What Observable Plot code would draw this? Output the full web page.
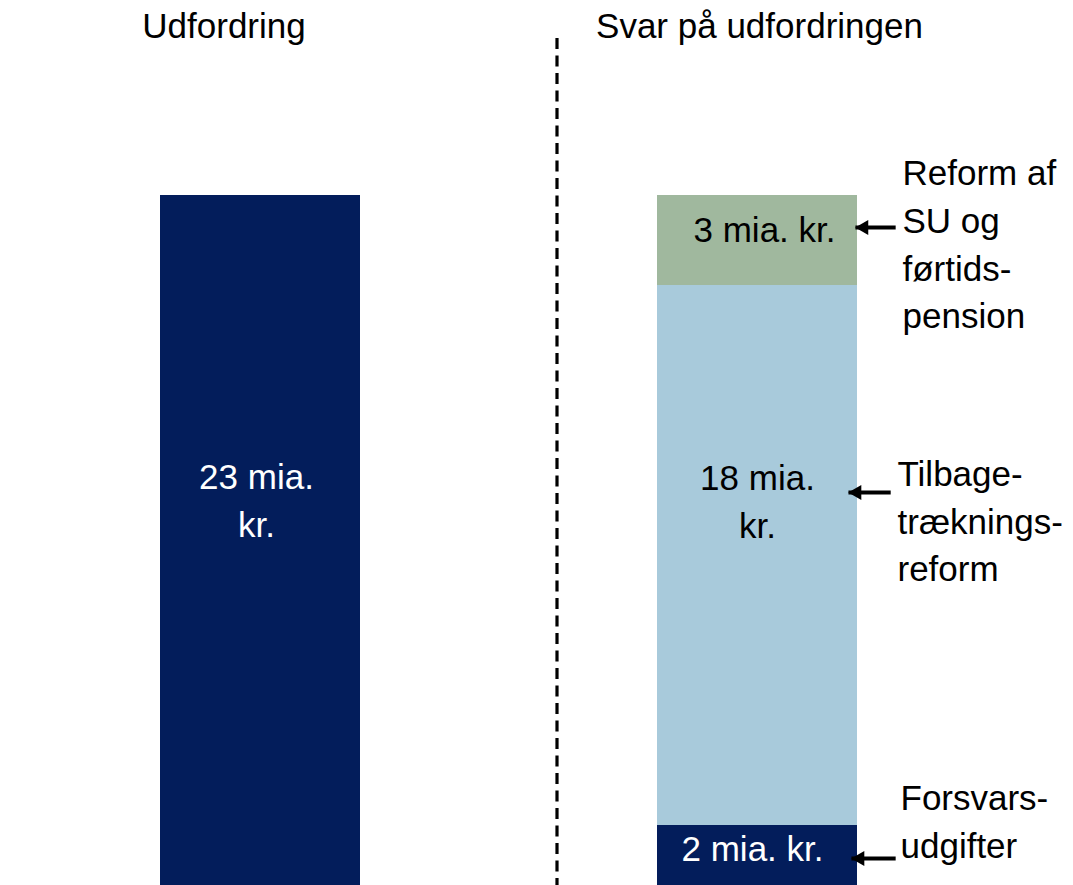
<!DOCTYPE html>
<html><head><meta charset="utf-8">
<script src="https://cdn.jsdelivr.net/npm/d3@7"></script>
<script src="https://cdn.jsdelivr.net/npm/@observablehq/plot@0.6"></script>
<style>
  html, body { margin: 0; padding: 0; background: #fff; }
  #chart svg { display: block; }
</style>
</head><body><div id="chart"></div>
<script>
// ---- data ----
const columns = ["Udfordring", "Svar på udfordringen"];
const challengeNames = ["Udfordring"];
const challengeValues = [23];
const challengeLabels = ["23 mia.\nkr."];
const responseNames = ["Forsvarsudgifter", "Tilbagetrækningsreform", "Reform af SU og førtidspension"];
const responseValues = [2, 18, 3];
const responseLabels = ["2 mia. kr.", "18 mia.\nkr.", "3 mia. kr."];
const responseNotes = ["Forsvars-\nudgifter", "Tilbage-\ntræknings-\nreform", "Reform af\nSU og\nførtids-\npension"];

// ---- styling ----
const navy = "#031d5b", lightBlue = "#a8cadb", green = "#a0b89e";
const seriesDomain = [...challengeNames, ...responseNames];
const seriesColors = [navy, navy, lightBlue, green];
const FONT = "Liberation Sans, Arial, Helvetica, sans-serif";
const FS = 35;
const LH = 1.36;

// ---- build segments (stacked) ----
const segments = [];
challengeNames.forEach((n, i) => {
  segments.push({col: 0, name: n, value: challengeValues[i], y1: 0, y2: challengeValues[i], label: challengeLabels[i]});
});
let acc = 0;
responseNames.forEach((n, i) => {
  const y1 = acc; acc += responseValues[i];
  segments.push({col: 1, name: n, value: responseValues[i], y1, y2: acc, label: responseLabels[i], note: responseNotes[i]});
});
const mid = d => (d.y1 + d.y2) / 2;
const left = segments.filter(d => d.col === 0);
const right = segments.filter(d => d.col === 1);

// per-label style offsets (pixels)
const leftLabelDy = [-43];
const rightLabelDy = [-10, -57, -14];
const rightLabelDx = [-5, 0, 7];
const rightLabelFill = ["white", "black", "black"];
const noteDy = [-37, -37, 1];
const noteDx = [143, 140, 145];
const arrowDy = [3, -63, -13];
const arrowTip = [1.189, 1.183, 1.197];
const arrowTail = [1.278, 1.268, 1.278];

const marks = [
  Plot.rect(segments, {
    x1: "col", x2: "col", y1: "y1", y2: "y2", fill: "name",
    insetLeft: -100, insetRight: -100
  }),
  Plot.ruleX([1], {
    x: d => d, dx: -200.5, insetTop: 38,
    stroke: "black", strokeWidth: 3.2, strokeDasharray: "11,6.5"
  }),
  Plot.text([columns[0]], {x: () => 0, text: d => d, frameAnchor: "top", lineAnchor: "middle", dy: 26, dx: -36.5,
    fontSize: FS, fontFamily: FONT, fill: "black"}),
  Plot.text([columns[1]], {x: () => 1, text: d => d, frameAnchor: "top", lineAnchor: "middle", dy: 26, dx: 2,
    fontSize: FS, fontFamily: FONT, fill: "black"}),
  ...left.map((d, i) => Plot.text([d], {x: "col", y: mid, text: "label", dy: leftLabelDy[i], dx: -4,
    fontSize: FS, fontFamily: FONT, fill: "white", lineHeight: LH})),
  ...right.map((d, i) => Plot.text([d], {x: "col", y: mid, text: "label", dy: rightLabelDy[i], dx: rightLabelDx[i],
    fontSize: FS, fontFamily: FONT, fill: rightLabelFill[i], lineHeight: LH})),
  ...right.map((d, i) => Plot.text([d], {x: "col", y: mid, text: "note", dy: noteDy[i], dx: noteDx[i],
    textAnchor: "start", fontSize: FS, fontFamily: FONT, fill: "black", lineHeight: LH})),
  // arrow shafts
  ...right.map((d, i) => Plot.link([d], {x1: () => arrowTail[i], x2: () => arrowTip[i], y1: mid, y2: mid,
    dy: arrowDy[i], stroke: "black", strokeWidth: 4, strokeLinecap: "butt"})),
  // arrow heads (filled triangles pointing left)
  ...right.map((d, i) => Plot.dot([d], {x: () => arrowTip[i], y: mid, dy: arrowDy[i], dx: 8.5,
    symbol: "triangle", r: 5.6, rotate: -90, fill: "black", stroke: "none"}))
];

const chart = Plot.plot({
  width: 1073,
  height: 885,
  margin: 0,
  style: {background: "white", fontFamily: FONT, fontSize: FS + "px"},
  x: {type: "linear", domain: [0, 1], range: [260, 757], axis: null},
  y: {domain: [0, 23], range: [885, 195], axis: null},
  color: {type: "ordinal", domain: seriesDomain, range: seriesColors},
  marks
});
document.getElementById("chart").appendChild(chart);
</script>
</body></html>
